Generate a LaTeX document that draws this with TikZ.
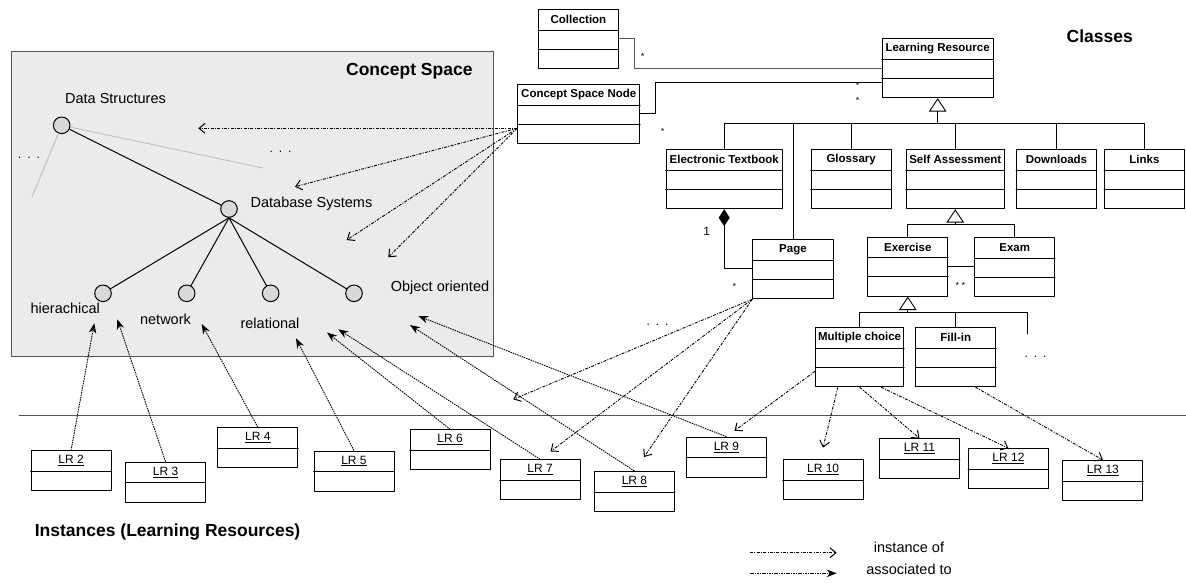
\documentclass[tikz,border=0pt]{standalone}
\usepackage{fontspec}
\setmainfont{Liberation Sans}
\usetikzlibrary{arrows.meta}
\definecolor{spacegray}{HTML}{EBEBEB}
\definecolor{nodegray}{HTML}{D9D9D9}
\definecolor{edgegray}{HTML}{555555}
\newcommand{\umlclass}[4]{%
	\node[umlbox,minimum width=#3] (#1) at (#2) {};
	\node[clsname] (#1-name) at ([yshift=-10.5pt]#1.north) {#4};
	\draw ([yshift=-21pt]#1.north west) -- ([yshift=-21pt]#1.north east);
	\draw ([yshift=-40pt]#1.north west) -- ([yshift=-40pt]#1.north east);
}
\newcommand{\lrinst}[3]{%
	\node[umlbox,minimum width=80,minimum height=40] (#1) at (#2) {};
	\node[lrname] (#1-name) at ([yshift=-10.5pt]#1.north) {\underline{#3}};
	\draw ([yshift=-21pt]#1.north west) -- ([yshift=-21pt]#1.north east);
}
\newcommand{\threedots}{.\hspace{6pt}.\hspace{6pt}.}
\begin{document}
\begin{tikzpicture}[x=1pt,y=-1pt,line join=round,line cap=round,line width=0.9pt,
	umlbox/.style={draw,anchor=north west,inner sep=0,minimum height=59},
	clsname/.style={font=\fontsize{11.5}{13}\selectfont\bfseries,inner sep=0},
	lrname/.style={font=\fontsize{12}{14}\selectfont,inner sep=0},
	txt/.style={font=\fontsize{14.5}{17}\selectfont,inner sep=0},
	heading/.style={font=\fontsize{17.5}{20}\selectfont\bfseries,inner sep=0},
	mult/.style={font=\fontsize{9}{10}\selectfont,inner sep=0},
	concept/.style={circle,draw,line width=1pt,fill=nodegray,minimum size=16.6,inner sep=0},
	inst/.style={-{Straight Barb[length=6pt,width=10pt,line width=1pt]},line width=0.9pt,line cap=butt,dash pattern=on 3pt off 1.3pt on 1pt off 1.3pt},
	assoc/.style={-{Stealth[length=10pt,width=7.5pt]},line width=0.9pt,line cap=butt,dash pattern=on 1.5pt off 0.9pt},
	gen/.style={-{Triangle[open,length=13.4pt,width=17.6pt]}}]
	\useasboundingbox (0,0) rectangle (1186,582);
	\draw[draw=edgegray,fill=spacegray,line width=1pt] (11,51) rectangle (493,356);
	\node[heading,anchor=east] (cstitle) at (473,71) {Concept Space};
	\node[heading] (classes) at (1099.7,36) {Classes};
	\node[heading,anchor=west] (instances) at (34.4,532.3) {Instances (Learning Resources)};
	\draw[edgegray,line width=1pt] (19,415) -- (1186,415);

	\node[concept] (ds) at (61.7,125.3) {};
	\node[concept] (dbs) at (229,209) {};
	\node[concept] (hier) at (103,293.3) {};
	\node[concept] (netw) at (186.7,293.3) {};
	\node[concept] (rel) at (270.7,293.3) {};
	\node[concept] (oo) at (354,293.3) {};
	\coordinate (dsleft) at (32,197);
	\coordinate (dsright) at (263,168);
	\draw[gray!50] (ds) -- (dsleft) (ds) -- (dsright);
	\draw[line width=1pt] (ds) -- (dbs);
	\foreach \leaf in {hier,netw,rel,oo}
		\draw[line width=1pt] (dbs.south) -- (\leaf);
	\node[txt] (dslabel) at (115.5,99) {Data Structures};
	\node[txt] (dbslabel) at (311.5,203.3) {Database Systems};
	\node[txt] (hierlabel) at (65.3,308.3) {hierachical};
	\node[txt] (netwlabel) at (165.5,319.3) {network};
	\node[txt] (rellabel) at (270,323.3) {relational};
	\node[txt] (oolabel) at (440,287.3) {Object oriented};
	\node[lrname] (dots1) at (29,157.5) {\threedots};
	\node[lrname] (dots2) at (280.5,151.5) {\threedots};

	\umlclass{coll}{538,9.3}{80}{Collection}
	\umlclass{csn}{517.3,84.3}{122}{Concept Space Node}
	\umlclass{lrs}{881.7,38.3}{111}{Learning Resource}
	\umlclass{et}{665.5,149.3}{116.5}{Electronic Textbook}
	\umlclass{gloss}{810.7,149.3}{80}{Glossary}
	\umlclass{sa}{905.7,149.3}{98.3}{Self Assessment}
	\umlclass{dl}{1016,149.3}{80}{Downloads}
	\umlclass{links}{1104,149.3}{80}{Links}
	\umlclass{page}{752.3,239.3}{80.4}{Page}
	\umlclass{ex}{867.3,236.7}{80}{Exercise}
	\umlclass{exam}{974.3,237.3}{80}{Exam}
	\umlclass{mc}{815,327.3}{88.3}{Multiple choice}
	\umlclass{fillin}{915.3,327.3}{80}{Fill-in}

	\draw[edgegray] ([yshift=-29pt]coll.north east) -- ++(16,0) |- ([yshift=-30pt]lrs.north west);
	\draw ([yshift=-29pt]csn.north east) -- ++(15.4,0) |- ([yshift=-44pt]lrs.north west);
	\node[mult] (m1) at (642.7,56.7) {*};
	\node[mult] (m2) at (857.7,85.7) {*};
	\node[mult] (m3) at (857.7,100) {*};
	\node[mult] (m4) at (662.7,131) {*};
	\node[mult] (m5) at (734.3,286.7) {*};
	\node[lrname] (m6) at (706.7,231) {1};
	\node[mult] (m7) at (960.3,285) {* *};

	\coordinate (lrbus) at ([yshift=-25.4pt]lrs.south);
	\draw[gen] (lrbus) -- (lrs.south);
	\draw (et.north) |- (lrbus) -| (links.north);
	\draw[line width=1.6pt] (page.north |- lrbus) -- (lrbus);
	\foreach \c in {gloss,sa,dl,page}
		\draw (\c.north) -- (\c.north |- lrbus);
	\draw[-{Diamond[length=17pt,width=11pt]}] ([yshift=-29pt]page.north west) -| (et.south);

	\coordinate (sabus) at ([yshift=-15pt]sa.south);
	\draw[gen] (sabus) -- (sa.south);
	\draw (ex.north) |- (sabus) -| (exam.north);
	\draw ([yshift=-30pt]ex.north east) -- ([yshift=-30pt]ex.north east -| exam.west);

	\coordinate (exbus) at ([yshift=-15.7pt]ex.south);
	\coordinate (moresub) at (1027.3,334);
	\draw[gen] (exbus) -- (ex.south);
	\draw (mc.north) |- (exbus) -| (moresub);
	\draw (fillin.north) -- (fillin.north |- exbus);
	\node[lrname] (dots3) at (657.5,325) {\threedots};
	\node[lrname] (dots4) at (1035.5,356.5) {\threedots};

	\lrinst{lr2}{30.6,450.3}{LR 2}
	\lrinst{lr3}{125.1,461.7}{LR 3}
	\lrinst{lr4}{217.4,427.3}{LR 4}
	\lrinst{lr5}{313.5,450.5}{LR 5}
	\lrinst{lr6}{409.7,429.3}{LR 6}
	\lrinst{lr7}{499.7,459.3}{LR 7}
	\lrinst{lr8}{594,471}{LR 8}
	\lrinst{lr9}{686,436.7}{LR 9}
	\lrinst{lr10}{782.7,459.3}{LR 10}
	\lrinst{lr11}{879,438.3}{LR 11}
	\lrinst{lr12}{968,448.3}{LR 12}
	\lrinst{lr13}{1062.4,460}{LR 13}

	\coordinate (csnout) at ([yshift=-44pt]csn.north west);
	\coordinate (tip1) at (198.3,128.3);
	\coordinate (tip2) at (295,186.7);
	\coordinate (tip3) at (346.7,240);
	\coordinate (tip4) at (388.3,257.3);
	\coordinate (tip5) at (513.3,399.3);
	\foreach \t in {tip1,tip2,tip3,tip4}
		\draw[inst] (csnout) -- (\t);
	\draw[inst] (page.south west) -- (tip5);
	\draw[inst,shorten >=13pt] (page.south west) -- (lr7.north);
	\draw[inst,shorten >=17pt] (page.south west) -- (lr8.north);
	\draw[inst,shorten >=10pt] ([yshift=-44pt]mc.north west) -- (lr9.north);
	\draw[inst,shorten >=12pt] ([xshift=-21.8pt]mc.south) -- ([xshift=-3pt]lr10.north);
	\draw[inst] (mc.south) -- (lr11.north);
	\draw[inst] ([xshift=21.5pt]mc.south) -- (lr12.north);
	\draw[inst] ([xshift=19.7pt]fillin.south) -- (lr13.north);

	\foreach \lr/\x/\y in {lr2/94.3/323.3,lr3/117.3/319.3,lr4/201.7/324,lr5/296/338.3,
		lr6/327/332.5,lr7/338.3/329.3,lr8/410/325,lr9/418.3/316}{
		\coordinate (\lr-tip) at (\x,\y);
		\draw[assoc] (\lr.north) -- (\lr-tip);
	}

	\coordinate (insta) at (750,552.7);
	\coordinate (instb) at (836.7,552.7);
	\coordinate (assoca) at (750,573.3);
	\coordinate (assocb) at (836.7,573.3);
	\draw[inst] (insta) -- (instb);
	\draw[assoc] (assoca) -- (assocb);
	\node[txt] (instlabel) at (909,547.3) {instance of};
	\node[txt] (assoclabel) at (909,569.5) {associated to};
\end{tikzpicture}
\end{document}
